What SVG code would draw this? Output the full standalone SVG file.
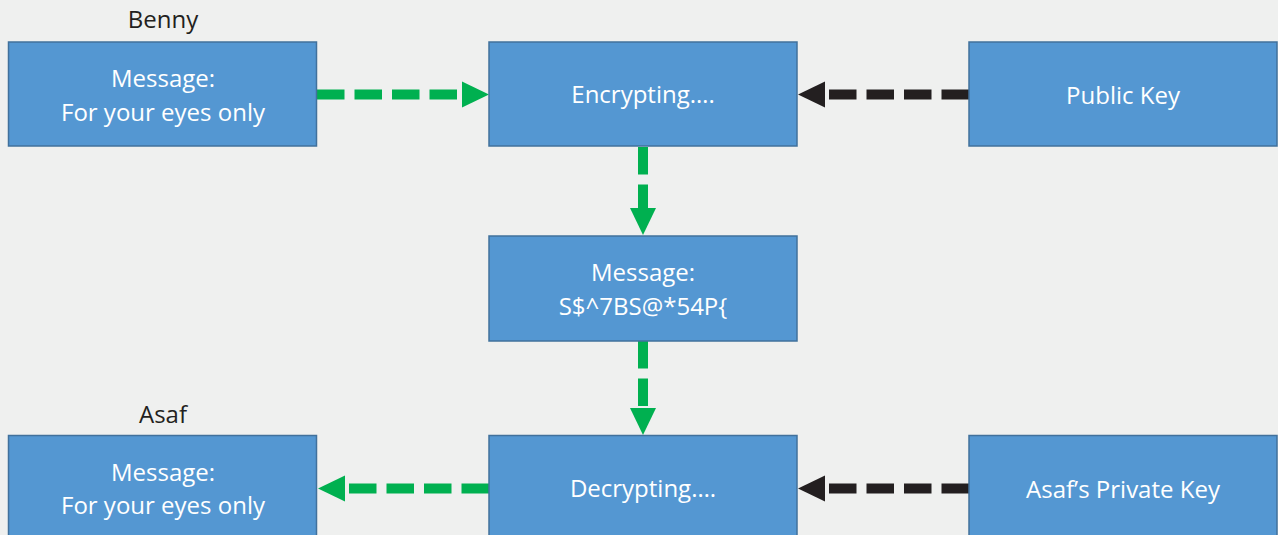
<svg xmlns="http://www.w3.org/2000/svg" width="1278" height="535" viewBox="0 0 1278 535">
  <style>
    .box { fill: #5497d2; stroke: #41719c; stroke-width: 1.5; }
    .t { font-family: "Open Sans", "Liberation Sans", sans-serif; font-size: 24px; fill: #ffffff; text-anchor: middle; }
    .lbl { font-family: "Open Sans", "Liberation Sans", sans-serif; font-size: 24px; fill: #231f20; text-anchor: middle; }
    .g { stroke: #00b050; stroke-width: 10; stroke-dasharray: 27.5 10; fill: none; }
    .k { stroke: #231f20; stroke-width: 10; stroke-dasharray: 27.5 10; fill: none; }
  </style>
  <defs>
    <marker id="ag" markerUnits="userSpaceOnUse" markerWidth="28" markerHeight="26" refX="0" refY="13" orient="auto" overflow="visible">
      <path d="M0,0 L27,13 L0,26 Z" fill="#00b050"/>
    </marker>
    <marker id="ak" markerUnits="userSpaceOnUse" markerWidth="28" markerHeight="26" refX="0" refY="13" orient="auto" overflow="visible">
      <path d="M0,0 L27,13 L0,26 Z" fill="#231f20"/>
    </marker>
  </defs>
  <rect x="0" y="0" width="1278" height="535" fill="#eff0ef"/>

  <g id="connectors">
    <line class="g" x1="317" y1="94.5" x2="462" y2="94.5" marker-end="url(#ag)"/>
    <line class="k" x1="969" y1="94.5" x2="825" y2="94.5" marker-end="url(#ak)"/>
    <line class="g" x1="643" y1="147" x2="643" y2="208" marker-end="url(#ag)"/>
    <line class="g" x1="643" y1="341" x2="643" y2="408" marker-end="url(#ag)"/>
    <line class="g" x1="489" y1="488.5" x2="345" y2="488.5" marker-end="url(#ag)"/>
    <line class="k" x1="969" y1="488.5" x2="825" y2="488.5" marker-end="url(#ak)"/>
  </g>

  <g id="benny-message">
    <text class="lbl" x="163" y="28">Benny</text>
    <rect class="box" x="8.5" y="42" width="308" height="104"/>
    <text class="t" x="163" y="87">Message:</text>
    <text class="t" x="163" y="121">For your eyes only</text>
  </g>

  <g id="encrypting">
    <rect class="box" x="489" y="42" width="308" height="104"/>
    <text class="t" x="643" y="103">Encrypting….</text>
  </g>

  <g id="public-key">
    <rect class="box" x="969" y="42" width="308" height="104"/>
    <text class="t" x="1123" y="104">Public Key</text>
  </g>

  <g id="encrypted-message">
    <rect class="box" x="489" y="236" width="308" height="105"/>
    <text class="t" x="643" y="281">Message:</text>
    <text class="t" x="643" y="315">S$^7BS@*54P{</text>
  </g>

  <g id="decrypting">
    <rect class="box" x="489" y="435.5" width="308" height="104"/>
    <text class="t" x="643" y="497">Decrypting….</text>
  </g>

  <g id="private-key">
    <rect class="box" x="969" y="435.5" width="308" height="104"/>
    <text class="t" x="1123" y="498">Asaf’s Private Key</text>
  </g>

  <g id="asaf-message">
    <text class="lbl" x="163" y="423">Asaf</text>
    <rect class="box" x="8.5" y="435.5" width="308" height="104"/>
    <text class="t" x="163" y="481">Message:</text>
    <text class="t" x="163" y="514">For your eyes only</text>
  </g>
</svg>
